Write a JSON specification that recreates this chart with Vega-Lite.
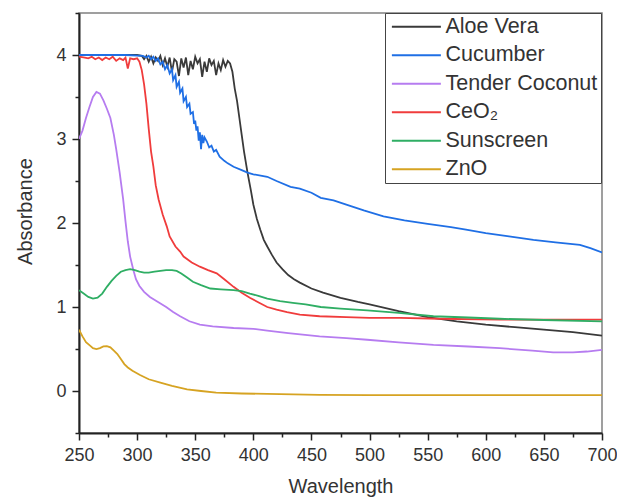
{
"$schema": "https://vega.github.io/schema/vega-lite/v6.json",
"width": 523, "height": 420,
"autosize": {"type": "none"},
"padding": {"left": 79, "top": 13, "right": 15, "bottom": 66},
"background": "white",
"config": {"view": {"stroke": "#808080", "strokeWidth": 1.5}, "font": "Liberation Sans"},
"data": {"values": [
{"s":"Aloe Vera","w":250,"a":4.0},{"s":"Aloe Vera","w":280,"a":4.0},{"s":"Aloe Vera","w":300,"a":4.0},{"s":"Aloe Vera","w":304,"a":3.99},{"s":"Aloe Vera","w":306,"a":3.95},{"s":"Aloe Vera","w":308,"a":3.99},{"s":"Aloe Vera","w":310,"a":3.92},{"s":"Aloe Vera","w":312,"a":3.98},{"s":"Aloe Vera","w":314,"a":3.9},{"s":"Aloe Vera","w":316,"a":3.97},{"s":"Aloe Vera","w":318,"a":3.93},{"s":"Aloe Vera","w":320,"a":3.99},{"s":"Aloe Vera","w":322,"a":3.88},{"s":"Aloe Vera","w":324,"a":3.96},{"s":"Aloe Vera","w":326,"a":3.86},{"s":"Aloe Vera","w":328,"a":3.97},{"s":"Aloe Vera","w":330,"a":3.8},{"s":"Aloe Vera","w":332,"a":3.95},{"s":"Aloe Vera","w":334,"a":3.92},{"s":"Aloe Vera","w":336,"a":3.75},{"s":"Aloe Vera","w":338,"a":3.96},{"s":"Aloe Vera","w":340,"a":3.85},{"s":"Aloe Vera","w":342,"a":3.97},{"s":"Aloe Vera","w":344,"a":3.76},{"s":"Aloe Vera","w":346,"a":3.93},{"s":"Aloe Vera","w":348,"a":3.83},{"s":"Aloe Vera","w":350,"a":3.98},{"s":"Aloe Vera","w":352,"a":3.9},{"s":"Aloe Vera","w":354,"a":3.95},{"s":"Aloe Vera","w":356,"a":3.74},{"s":"Aloe Vera","w":358,"a":3.92},{"s":"Aloe Vera","w":360,"a":3.8},{"s":"Aloe Vera","w":362,"a":3.96},{"s":"Aloe Vera","w":364,"a":3.88},{"s":"Aloe Vera","w":366,"a":3.93},{"s":"Aloe Vera","w":368,"a":3.76},{"s":"Aloe Vera","w":370,"a":3.9},{"s":"Aloe Vera","w":372,"a":3.82},{"s":"Aloe Vera","w":374,"a":3.94},{"s":"Aloe Vera","w":376,"a":3.86},{"s":"Aloe Vera","w":378,"a":3.93},{"s":"Aloe Vera","w":380,"a":3.9},{"s":"Aloe Vera","w":382,"a":3.8},{"s":"Aloe Vera","w":384,"a":3.6},{"s":"Aloe Vera","w":386,"a":3.45},{"s":"Aloe Vera","w":388,"a":3.25},{"s":"Aloe Vera","w":390,"a":3.05},{"s":"Aloe Vera","w":392,"a":2.85},{"s":"Aloe Vera","w":395,"a":2.6},{"s":"Aloe Vera","w":398,"a":2.38},{"s":"Aloe Vera","w":400,"a":2.22},{"s":"Aloe Vera","w":403,"a":2.05},{"s":"Aloe Vera","w":406,"a":1.92},{"s":"Aloe Vera","w":409,"a":1.8},{"s":"Aloe Vera","w":412,"a":1.72},{"s":"Aloe Vera","w":416,"a":1.62},{"s":"Aloe Vera","w":420,"a":1.53},{"s":"Aloe Vera","w":425,"a":1.45},{"s":"Aloe Vera","w":430,"a":1.38},{"s":"Aloe Vera","w":435,"a":1.33},{"s":"Aloe Vera","w":440,"a":1.29},{"s":"Aloe Vera","w":450,"a":1.22},{"s":"Aloe Vera","w":460,"a":1.17},{"s":"Aloe Vera","w":475,"a":1.11},{"s":"Aloe Vera","w":490,"a":1.06},{"s":"Aloe Vera","w":500,"a":1.03},{"s":"Aloe Vera","w":525,"a":0.95},{"s":"Aloe Vera","w":550,"a":0.88},{"s":"Aloe Vera","w":575,"a":0.83},{"s":"Aloe Vera","w":600,"a":0.79},{"s":"Aloe Vera","w":625,"a":0.76},{"s":"Aloe Vera","w":650,"a":0.73},{"s":"Aloe Vera","w":675,"a":0.7},{"s":"Aloe Vera","w":700,"a":0.66},
{"s":"Cucumber","w":250,"a":4.0},{"s":"Cucumber","w":290,"a":4.0},{"s":"Cucumber","w":305,"a":3.99},{"s":"Cucumber","w":308,"a":3.97},{"s":"Cucumber","w":310,"a":3.99},{"s":"Cucumber","w":312,"a":3.95},{"s":"Cucumber","w":314,"a":3.98},{"s":"Cucumber","w":316,"a":3.93},{"s":"Cucumber","w":318,"a":3.96},{"s":"Cucumber","w":320,"a":3.89},{"s":"Cucumber","w":322,"a":3.92},{"s":"Cucumber","w":324,"a":3.83},{"s":"Cucumber","w":326,"a":3.88},{"s":"Cucumber","w":328,"a":3.78},{"s":"Cucumber","w":330,"a":3.83},{"s":"Cucumber","w":331,"a":3.7},{"s":"Cucumber","w":333,"a":3.76},{"s":"Cucumber","w":334,"a":3.62},{"s":"Cucumber","w":336,"a":3.68},{"s":"Cucumber","w":337,"a":3.55},{"s":"Cucumber","w":339,"a":3.6},{"s":"Cucumber","w":340,"a":3.45},{"s":"Cucumber","w":342,"a":3.5},{"s":"Cucumber","w":343,"a":3.38},{"s":"Cucumber","w":345,"a":3.42},{"s":"Cucumber","w":346,"a":3.3},{"s":"Cucumber","w":348,"a":3.32},{"s":"Cucumber","w":349,"a":3.18},{"s":"Cucumber","w":350,"a":3.22},{"s":"Cucumber","w":351,"a":3.1},{"s":"Cucumber","w":352,"a":3.15},{"s":"Cucumber","w":353,"a":2.98},{"s":"Cucumber","w":354,"a":3.08},{"s":"Cucumber","w":355,"a":2.88},{"s":"Cucumber","w":356,"a":3.05},{"s":"Cucumber","w":357,"a":2.95},{"s":"Cucumber","w":358,"a":3.02},{"s":"Cucumber","w":360,"a":2.97},{"s":"Cucumber","w":362,"a":2.9},{"s":"Cucumber","w":364,"a":2.92},{"s":"Cucumber","w":366,"a":2.85},{"s":"Cucumber","w":368,"a":2.87},{"s":"Cucumber","w":371,"a":2.79},{"s":"Cucumber","w":375,"a":2.74},{"s":"Cucumber","w":378,"a":2.71},{"s":"Cucumber","w":383,"a":2.67},{"s":"Cucumber","w":390,"a":2.63},{"s":"Cucumber","w":395,"a":2.6},{"s":"Cucumber","w":400,"a":2.58},{"s":"Cucumber","w":412,"a":2.55},{"s":"Cucumber","w":420,"a":2.5},{"s":"Cucumber","w":432,"a":2.43},{"s":"Cucumber","w":440,"a":2.41},{"s":"Cucumber","w":450,"a":2.36},{"s":"Cucumber","w":458,"a":2.3},{"s":"Cucumber","w":469,"a":2.27},{"s":"Cucumber","w":480,"a":2.22},{"s":"Cucumber","w":495,"a":2.15},{"s":"Cucumber","w":512,"a":2.08},{"s":"Cucumber","w":530,"a":2.03},{"s":"Cucumber","w":550,"a":1.99},{"s":"Cucumber","w":570,"a":1.95},{"s":"Cucumber","w":583,"a":1.92},{"s":"Cucumber","w":600,"a":1.88},{"s":"Cucumber","w":620,"a":1.84},{"s":"Cucumber","w":641,"a":1.8},{"s":"Cucumber","w":660,"a":1.77},{"s":"Cucumber","w":681,"a":1.74},{"s":"Cucumber","w":690,"a":1.7},{"s":"Cucumber","w":700,"a":1.65},
{"s":"Tender Coconut","w":250,"a":3.0},{"s":"Tender Coconut","w":253,"a":3.1},{"s":"Tender Coconut","w":256,"a":3.25},{"s":"Tender Coconut","w":259,"a":3.38},{"s":"Tender Coconut","w":262,"a":3.5},{"s":"Tender Coconut","w":265,"a":3.56},{"s":"Tender Coconut","w":268,"a":3.54},{"s":"Tender Coconut","w":271,"a":3.46},{"s":"Tender Coconut","w":274,"a":3.36},{"s":"Tender Coconut","w":277,"a":3.25},{"s":"Tender Coconut","w":280,"a":3.05},{"s":"Tender Coconut","w":282,"a":2.88},{"s":"Tender Coconut","w":285,"a":2.6},{"s":"Tender Coconut","w":288,"a":2.28},{"s":"Tender Coconut","w":290,"a":2.02},{"s":"Tender Coconut","w":292,"a":1.78},{"s":"Tender Coconut","w":294,"a":1.6},{"s":"Tender Coconut","w":296.6,"a":1.45},{"s":"Tender Coconut","w":299,"a":1.33},{"s":"Tender Coconut","w":302,"a":1.25},{"s":"Tender Coconut","w":306,"a":1.18},{"s":"Tender Coconut","w":311,"a":1.12},{"s":"Tender Coconut","w":318,"a":1.06},{"s":"Tender Coconut","w":325,"a":1.0},{"s":"Tender Coconut","w":331,"a":0.94},{"s":"Tender Coconut","w":337,"a":0.89},{"s":"Tender Coconut","w":345,"a":0.83},{"s":"Tender Coconut","w":354,"a":0.79},{"s":"Tender Coconut","w":365,"a":0.77},{"s":"Tender Coconut","w":383,"a":0.75},{"s":"Tender Coconut","w":400,"a":0.74},{"s":"Tender Coconut","w":412,"a":0.72},{"s":"Tender Coconut","w":430,"a":0.69},{"s":"Tender Coconut","w":457,"a":0.65},{"s":"Tender Coconut","w":480,"a":0.63},{"s":"Tender Coconut","w":498,"a":0.61},{"s":"Tender Coconut","w":525,"a":0.58},{"s":"Tender Coconut","w":555,"a":0.55},{"s":"Tender Coconut","w":585,"a":0.53},{"s":"Tender Coconut","w":612,"a":0.51},{"s":"Tender Coconut","w":640,"a":0.48},{"s":"Tender Coconut","w":658,"a":0.46},{"s":"Tender Coconut","w":675,"a":0.46},{"s":"Tender Coconut","w":687,"a":0.47},{"s":"Tender Coconut","w":700,"a":0.49},
{"s":"CeO₂","w":250,"a":3.98},{"s":"CeO₂","w":255,"a":3.97},{"s":"CeO₂","w":258,"a":3.96},{"s":"CeO₂","w":261,"a":3.98},{"s":"CeO₂","w":264,"a":3.95},{"s":"CeO₂","w":267,"a":3.97},{"s":"CeO₂","w":270,"a":3.94},{"s":"CeO₂","w":273,"a":3.97},{"s":"CeO₂","w":276,"a":3.95},{"s":"CeO₂","w":279,"a":3.98},{"s":"CeO₂","w":282,"a":3.93},{"s":"CeO₂","w":285,"a":3.96},{"s":"CeO₂","w":288,"a":3.94},{"s":"CeO₂","w":290,"a":3.97},{"s":"CeO₂","w":292,"a":3.84},{"s":"CeO₂","w":294,"a":3.96},{"s":"CeO₂","w":297,"a":3.95},{"s":"CeO₂","w":300,"a":3.96},{"s":"CeO₂","w":302,"a":3.92},{"s":"CeO₂","w":304,"a":3.82},{"s":"CeO₂","w":306,"a":3.65},{"s":"CeO₂","w":308,"a":3.42},{"s":"CeO₂","w":310,"a":3.12},{"s":"CeO₂","w":312,"a":2.85},{"s":"CeO₂","w":314,"a":2.67},{"s":"CeO₂","w":316,"a":2.45},{"s":"CeO₂","w":318.5,"a":2.28},{"s":"CeO₂","w":322,"a":2.1},{"s":"CeO₂","w":325.5,"a":1.96},{"s":"CeO₂","w":328,"a":1.84},{"s":"CeO₂","w":333,"a":1.72},{"s":"CeO₂","w":337,"a":1.66},{"s":"CeO₂","w":340,"a":1.6},{"s":"CeO₂","w":347,"a":1.53},{"s":"CeO₂","w":354,"a":1.48},{"s":"CeO₂","w":361,"a":1.44},{"s":"CeO₂","w":368.5,"a":1.4},{"s":"CeO₂","w":375,"a":1.33},{"s":"CeO₂","w":383,"a":1.24},{"s":"CeO₂","w":390,"a":1.17},{"s":"CeO₂","w":397,"a":1.11},{"s":"CeO₂","w":405,"a":1.05},{"s":"CeO₂","w":412,"a":1.0},{"s":"CeO₂","w":420,"a":0.97},{"s":"CeO₂","w":429,"a":0.94},{"s":"CeO₂","w":440,"a":0.91},{"s":"CeO₂","w":457,"a":0.89},{"s":"CeO₂","w":480,"a":0.88},{"s":"CeO₂","w":500,"a":0.87},{"s":"CeO₂","w":526,"a":0.87},{"s":"CeO₂","w":560,"a":0.86},{"s":"CeO₂","w":612,"a":0.85},{"s":"CeO₂","w":650,"a":0.85},{"s":"CeO₂","w":700,"a":0.85},
{"s":"Sunscreen","w":250,"a":1.2},{"s":"Sunscreen","w":254,"a":1.16},{"s":"Sunscreen","w":258,"a":1.12},{"s":"Sunscreen","w":262,"a":1.1},{"s":"Sunscreen","w":266,"a":1.11},{"s":"Sunscreen","w":270,"a":1.16},{"s":"Sunscreen","w":274,"a":1.24},{"s":"Sunscreen","w":278,"a":1.31},{"s":"Sunscreen","w":282,"a":1.37},{"s":"Sunscreen","w":286,"a":1.42},{"s":"Sunscreen","w":290,"a":1.44},{"s":"Sunscreen","w":294,"a":1.45},{"s":"Sunscreen","w":298,"a":1.44},{"s":"Sunscreen","w":302,"a":1.42},{"s":"Sunscreen","w":306,"a":1.41},{"s":"Sunscreen","w":310,"a":1.41},{"s":"Sunscreen","w":315,"a":1.42},{"s":"Sunscreen","w":320,"a":1.43},{"s":"Sunscreen","w":325,"a":1.44},{"s":"Sunscreen","w":330,"a":1.44},{"s":"Sunscreen","w":334,"a":1.43},{"s":"Sunscreen","w":338,"a":1.4},{"s":"Sunscreen","w":343,"a":1.35},{"s":"Sunscreen","w":348,"a":1.3},{"s":"Sunscreen","w":355,"a":1.26},{"s":"Sunscreen","w":363,"a":1.22},{"s":"Sunscreen","w":372,"a":1.21},{"s":"Sunscreen","w":383,"a":1.2},{"s":"Sunscreen","w":390,"a":1.19},{"s":"Sunscreen","w":397,"a":1.16},{"s":"Sunscreen","w":405,"a":1.13},{"s":"Sunscreen","w":412,"a":1.1},{"s":"Sunscreen","w":423,"a":1.07},{"s":"Sunscreen","w":434,"a":1.05},{"s":"Sunscreen","w":445,"a":1.03},{"s":"Sunscreen","w":458,"a":1.0},{"s":"Sunscreen","w":475,"a":0.98},{"s":"Sunscreen","w":498,"a":0.96},{"s":"Sunscreen","w":525,"a":0.93},{"s":"Sunscreen","w":555,"a":0.89},{"s":"Sunscreen","w":585,"a":0.875},{"s":"Sunscreen","w":612,"a":0.86},{"s":"Sunscreen","w":650,"a":0.845},{"s":"Sunscreen","w":700,"a":0.83},
{"s":"ZnO","w":250,"a":0.73},{"s":"ZnO","w":253,"a":0.65},{"s":"ZnO","w":256,"a":0.58},{"s":"ZnO","w":259.5,"a":0.54},{"s":"ZnO","w":262,"a":0.51},{"s":"ZnO","w":265,"a":0.5},{"s":"ZnO","w":268,"a":0.51},{"s":"ZnO","w":271,"a":0.53},{"s":"ZnO","w":274,"a":0.535},{"s":"ZnO","w":277,"a":0.52},{"s":"ZnO","w":280,"a":0.48},{"s":"ZnO","w":283,"a":0.44},{"s":"ZnO","w":286,"a":0.38},{"s":"ZnO","w":289,"a":0.32},{"s":"ZnO","w":292,"a":0.28},{"s":"ZnO","w":296,"a":0.24},{"s":"ZnO","w":302.5,"a":0.19},{"s":"ZnO","w":310,"a":0.14},{"s":"ZnO","w":320,"a":0.1},{"s":"ZnO","w":330,"a":0.06},{"s":"ZnO","w":343,"a":0.02},{"s":"ZnO","w":355,"a":0.0},{"s":"ZnO","w":368,"a":-0.02},{"s":"ZnO","w":390,"a":-0.03},{"s":"ZnO","w":412,"a":-0.035},{"s":"ZnO","w":457,"a":-0.045},{"s":"ZnO","w":500,"a":-0.05},{"s":"ZnO","w":600,"a":-0.05},{"s":"ZnO","w":700,"a":-0.05}
]},
"mark": {"type": "line", "strokeWidth": 1.8, "clip": true},
"encoding": {
  "x": {"field": "w", "type": "quantitative", "scale": {"domain": [250, 700], "nice": false, "zero": false},
    "axis": {"title": "Wavelength", "grid": false,
      "values": [250,275,300,325,350,375,400,425,450,475,500,525,550,575,600,625,650,675,700],
      "labelExpr": "datum.value % 50 === 0 ? datum.label : ''",
      "tickSize": {"condition": {"test": "datum.value % 50 === 0", "value": 7}, "value": 4},
      "tickWidth": 1.5, "tickColor": "#222", "domainColor": "#222", "domainWidth": 2,
      "labelFontSize": 18, "labelColor": "#333", "labelPadding": 6, "labelOverlap": false, "labelFlush": false,
      "titleFontSize": 20, "titleFontWeight": "normal", "titleColor": "#333", "titlePadding": 12}},
  "y": {"field": "a", "type": "quantitative", "scale": {"domain": [-0.5, 4.5], "nice": false, "zero": false},
    "axis": {"title": "Absorbance", "grid": false, "format": ".0f",
      "values": [-0.5,0,0.5,1,1.5,2,2.5,3,3.5,4,4.5],
      "labelExpr": "datum.value % 1 === 0 ? datum.label : ''",
      "tickSize": {"condition": {"test": "datum.value % 1 === 0", "value": 7}, "value": 4},
      "tickWidth": 1.5, "tickColor": "#222", "domainColor": "#222", "domainWidth": 2,
      "labelFontSize": 18, "labelColor": "#333", "labelPadding": 6, "labelOverlap": false, "labelFlush": false,
      "titleFontSize": 20, "titleFontWeight": "normal", "titleColor": "#333", "titlePadding": 20, "titleY": 198}},
  "color": {"field": "s", "type": "nominal",
    "scale": {"domain": ["Aloe Vera","Cucumber","Tender Coconut","CeO₂","Sunscreen","ZnO"],
              "range": ["#3a3a3a","#1f6fe5","#b67cf0","#f03c3c","#2fae64","#d6a322"]},
    "legend": {"title": null, "orient": "none", "legendX": 306, "legendY": 0,
      "symbolType": "M-1.4,0H8.6", "symbolSize": 96, "symbolStrokeWidth": 2.2,
      "labelFontSize": 21.5, "labelFont": "Liberation Sans", "labelColor": "#333", "labelOffset": 36, "labelLimit": 300,
      "padding": 3, "rowPadding": 5.5, "strokeColor": "#444", "fillColor": "white"}}
}
}
